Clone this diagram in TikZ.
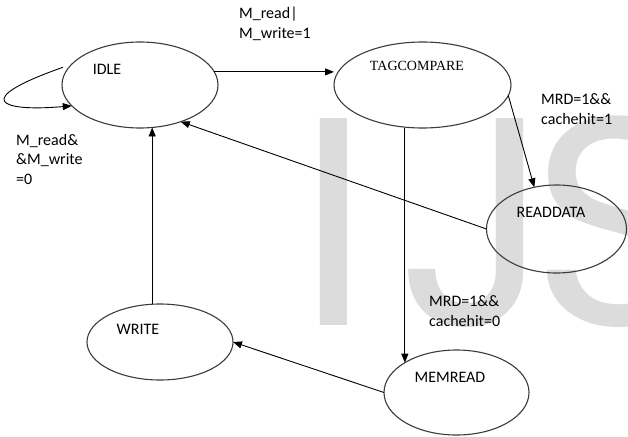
\documentclass[tikz,border=0pt]{standalone}
\usepackage{fontspec}
\setmainfont{Carlito}
\newfontfamily\tmsfont{Liberation Serif}
\newfontfamily\wmfont{Poppins}
\usetikzlibrary{shapes.geometric,arrows.meta}
\definecolor{wmgray}{RGB}{220,220,220}
\definecolor{edgegray}{RGB}{60,60,60}
\begin{document}
\begin{tikzpicture}[x=1pt,y=-1pt,
  state/.style={ellipse,draw=edgegray,line width=1.1pt,inner sep=0pt,outer sep=0pt},
  stlabel/.style={font=\fontsize{16}{19}\selectfont,inner sep=0pt},
  cond/.style={font=\fontsize{16}{20}\selectfont,align=left,inner sep=0pt,anchor=base west},
  arr/.style={line width=0.9pt,-{Triangle[length=9pt,width=7pt]}}]
\useasboundingbox (0,0) rectangle (628,436);
\fill[white] (0,0) rectangle (628,436);
\begin{scope}
\clip (0,0) rectangle (628,436);
\node[anchor=base west,inner sep=0pt,text=wmgray,font=\wmfont\fontsize{297}{300}\selectfont] (wm) at (297,325) {I\kern27pt J\kern-24pt S};
\end{scope}
% states
\node[state,minimum width=156pt,minimum height=86pt] (idle) at (140,85) {};
\node[state,minimum width=177pt,minimum height=86pt] (tag) at (422.5,85) {};
\node[state,minimum width=140pt,minimum height=88pt] (rd) at (556.5,229) {};
\node[state,minimum width=146pt,minimum height=76pt] (write) at (160,342) {};
\node[state,minimum width=145pt,minimum height=85pt] (mem) at (456.5,392.5) {};
% state names
\node[stlabel] (tidle) at (107,69) {IDLE};
\node[stlabel,font=\tmsfont\fontsize{14}{16}\selectfont] (ttag) at (417,66) {TAGCOMPARE};
\node[stlabel] (trd) at (551,212) {READDATA};
\node[stlabel] (twrite) at (138,329) {WRITE};
\node[stlabel] (tmem) at (450,377) {MEMREAD};
% conditions (base anchor = baseline of last line)
\node[cond] (c1) at (239,38) {M\_read|\\M\_write=1};
\node[cond] (c2) at (541,124) {MRD=1\&\&\\cachehit=1};
\node[cond,font=\fontsize{16}{19.5}\selectfont] (c3) at (16,184) {M\_read\&\\\&M\_write\\=0};
\node[cond] (c4) at (429,326) {MRD=1\&\&\\cachehit=0};
% transitions
\draw[arr] (idle.10) -- (idle.10 -| tag.west);
\draw[arr] (tag.-7) -- (rd.118);
\draw[arr] (rd.west) -- (idle.-42);
\draw[arr] (tag.south -| mem.150) -- (mem.150);
\draw[arr] (mem.west) -- (write.east);
\draw[arr] (write.north -| idle.-74) -- (idle.-74);
\draw[arr] ([shift={(-12,6)}]idle.160) .. controls (-30,100) and (0,112) .. (idle.197);
\end{tikzpicture}
\end{document}
